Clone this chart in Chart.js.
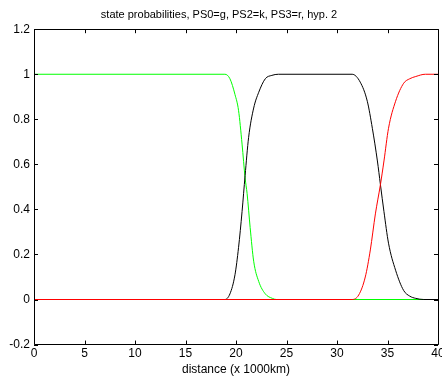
<!DOCTYPE html>
<html lang="en">

<head>
  <meta charset="UTF-8">
  <title>state probabilities</title>
  <script src="https://cdn.jsdelivr.net/npm/chart.js"></script>
  <style>
    body {
      margin: 0;
      background: #fff;
    }

    #box {
      width: 442px;
      height: 378px;
    }
  </style>
</head>

<body>
<div id="box"><canvas id="myChart"></canvas></div>

<script>
  // (distance in 1000 km, probability)
  const greenX = [0, 18.9, 19.4, 19.9, 20.25, 20.6, 20.9, 21.1, 21.4, 21.75, 22.25, 22.9, 23.6, 24, 40];
  const greenY = [1, 1, 0.98, 0.91, 0.84, 0.69, 0.54, 0.47, 0.32, 0.17, 0.08, 0.025, 0.005, 0, 0];

  const blackX = [0, 18.9, 19.4, 19.9, 20.25, 20.6, 20.9, 21.25, 21.75, 22.25, 22.9, 23.55, 24.2, 31.5,
    32.3, 33.0, 33.5, 34.0, 34.3, 34.65, 35.1, 35.8, 36.6, 37.2, 37.8, 38.6, 40];
  const blackY = [0, 0, 0.025, 0.11, 0.23, 0.39, 0.55, 0.72, 0.85, 0.92, 0.98, 0.995, 1, 1,
    0.965, 0.88, 0.76, 0.615, 0.51, 0.39, 0.25, 0.13, 0.04, 0.015, 0.005, 0, 0];

  const redX = [0, 31.5, 32.15, 32.8, 33.3, 33.8, 34.3, 34.65, 35.1, 35.8, 36.6, 37.2, 37.8, 38.75, 40];
  const redY = [0, 0, 0.02, 0.1, 0.22, 0.38, 0.51, 0.615, 0.76, 0.88, 0.96, 0.98, 0.99, 1, 1];

  const xTicks = [0, 5, 10, 15, 20, 25, 30, 35, 40];
  const yTicks = [-0.2, 0, 0.2, 0.4, 0.6, 0.8, 1, 1.2];

  const FONT = 'Liberation Sans, Arial, sans-serif';

  function pts(xs, ys) {
    return xs.map((x, i) => ({ x: x, y: ys[i] }));
  }

  // matlab style box with inward ticks
  const boxPlugin = {
    id: 'box',
    afterDraw(chart) {
      const ctx = chart.ctx;
      const a = chart.chartArea;
      const sx = chart.scales.x, sy = chart.scales.y;
      const len = 4;
      ctx.save();
      ctx.strokeStyle = '#000';
      ctx.lineWidth = 1;
      ctx.beginPath();
      ctx.rect(Math.round(a.left) + 0.5, Math.round(a.top) + 0.5,
        Math.round(a.right - a.left), Math.round(a.bottom - a.top));
      xTicks.forEach(v => {
        const px = Math.round(sx.getPixelForValue(v)) + 0.5;
        ctx.moveTo(px, a.bottom); ctx.lineTo(px, a.bottom - len);
        ctx.moveTo(px, a.top); ctx.lineTo(px, a.top + len);
      });
      yTicks.forEach(v => {
        const py = Math.round(sy.getPixelForValue(v)) + 0.5;
        ctx.moveTo(a.left, py); ctx.lineTo(a.left + len, py);
        ctx.moveTo(a.right, py); ctx.lineTo(a.right - len, py);
      });
      ctx.stroke();
      ctx.restore();
    }
  };

  const line = (label, xs, ys, color, order) => ({
    label: label,
    data: pts(xs, ys),
    borderColor: color,
    backgroundColor: color,
    borderWidth: 1,
    pointRadius: 0,
    cubicInterpolationMode: 'monotone',
    order: order
  });

  const ctx = document.getElementById('myChart').getContext('2d');
  new Chart(ctx, {
    type: 'line',
    data: {
      datasets: [
        line('PS0', greenX, greenY, '#00ff00', 2),
        line('PS2', blackX, blackY, '#000000', 1),
        line('PS3', redX, redY, '#ff0000', 0)
      ]
    },
    plugins: [boxPlugin],
    options: {
      responsive: true,
      maintainAspectRatio: false,
      animation: false,
      layout: { padding: { left: 0, right: 4, top: 0, bottom: 0 } },
      plugins: {
        legend: { display: false },
        tooltip: { enabled: false },
        title: {
          display: true,
          text: 'state probabilities, PS0=g, PS2=k, PS3=r, hyp. 2',
          color: '#000',
          font: { family: FONT, size: 11, weight: 'normal' },
          padding: { top: 8, bottom: 8 }
        }
      },
      scales: {
        x: {
          type: 'linear',
          min: 0,
          max: 40,
          grid: { display: false, drawTicks: false },
          border: { display: false },
          afterBuildTicks: s => { s.ticks = xTicks.map(v => ({ value: v })); },
          // 33.45 puts y=0 on a whole pixel row
          afterFit: s => { s.height = 33.45; s.paddingLeft = 0; s.paddingRight = 0; },
          ticks: {
            color: '#000',
            padding: 2,
            maxRotation: 0,
            autoSkip: false,
            font: { family: FONT, size: 12 },
            callback: v => String(v)
          },
          title: {
            display: true,
            text: 'distance (x 1000km)',
            color: '#000',
            font: { family: FONT, size: 12 },
            padding: { top: 0, bottom: 1 }
          }
        },
        y: {
          min: -0.2,
          max: 1.2,
          grid: { display: false, drawTicks: false },
          border: { display: false },
          afterBuildTicks: s => { s.ticks = yTicks.map(v => ({ value: v })); },
          afterFit: s => { s.width = 34; },
          ticks: {
            color: '#000',
            padding: 4,
            autoSkip: false,
            font: { family: FONT, size: 12 },
            callback: v => String(Number(v.toFixed(1)))
          }
        }
      }
    }
  });
</script>
</body>

</html>
